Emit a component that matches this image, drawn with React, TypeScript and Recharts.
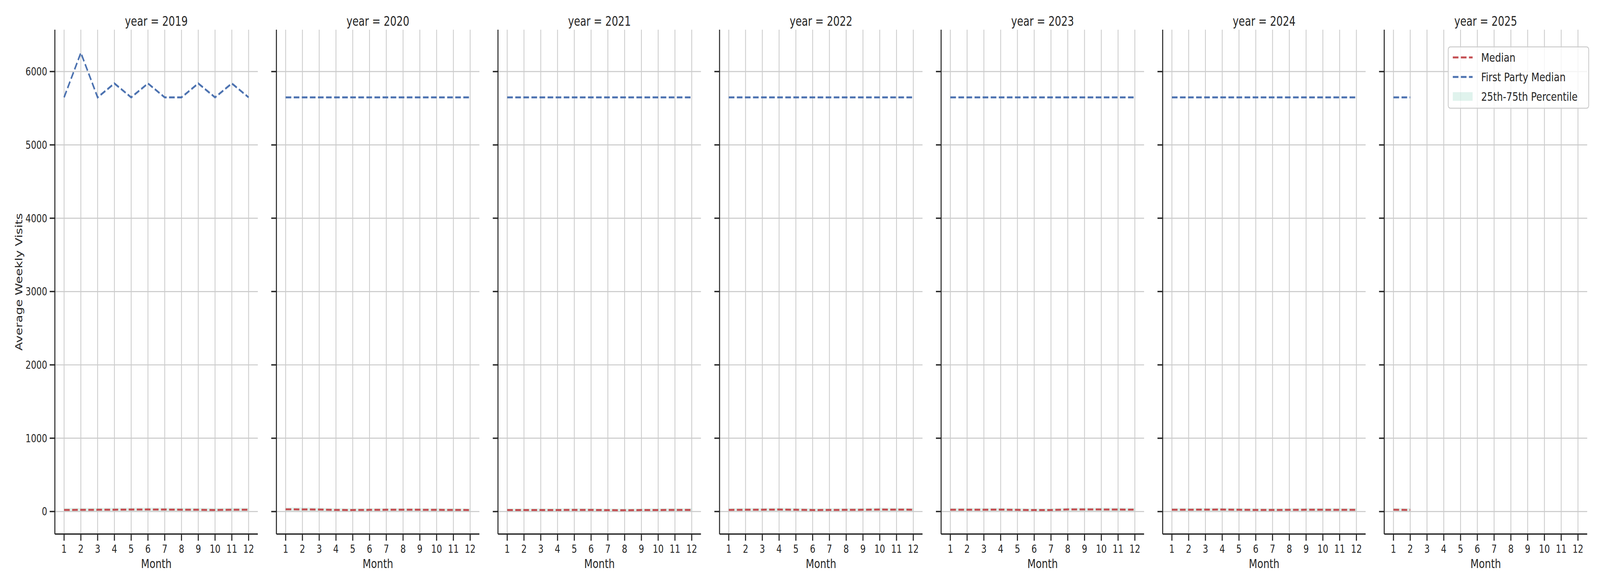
import { ComposedChart, Line, Area, XAxis, YAxis, CartesianGrid } from 'recharts';

const years = [2019, 2020, 2021, 2022, 2023, 2024, 2025];
const months = [1, 2, 3, 4, 5, 6, 7, 8, 9, 10, 11, 12];
const yTicks = [0, 1000, 2000, 3000, 4000, 5000, 6000];

// one row per year (2025 only has Jan/Feb)
const medianByYear = [
    [22, 23, 24, 25, 27, 28, 27, 25, 24, 21, 25, 25],
    [30, 29, 27, 22, 21, 23, 24, 25, 24, 23, 22, 21],
    [20, 20, 21, 21, 22, 22, 19, 18, 20, 21, 22, 22],
    [22, 24, 25, 27, 24, 21, 22, 23, 24, 27, 26, 25],
    [24, 24, 25, 26, 23, 20, 21, 28, 28, 28, 27, 26],
    [24, 25, 26, 27, 24, 22, 22, 23, 24, 24, 23, 23],
    [24, 22],
];
const p25ByYear = [
    [6, 6, 7, 7, 8, 8, 8, 7, 7, 6, 7, 7],
    [8, 8, 7, 6, 6, 6, 7, 7, 7, 6, 6, 6],
    [6, 6, 6, 6, 6, 6, 5.6, 5.6, 6, 6, 6, 6],
    [7, 7, 7, 8, 7, 6, 6, 7, 7, 8, 8, 7],
    [7, 7, 7, 8, 7, 6, 6, 8, 8, 8, 8, 7],
    [7, 7, 7, 8, 7, 6, 6, 7, 7, 7, 7, 7],
    [7, 6],
];
const p75ByYear = [
    [48, 49, 50, 51, 53, 54, 53, 51, 50, 47, 51, 51],
    [57, 56, 53, 45, 43, 45, 46, 46, 45, 44, 43, 42],
    [42, 42, 43, 43, 44, 44, 40, 39, 42, 43, 44, 44],
    [46, 48, 49, 52, 48, 44, 45, 46, 48, 52, 50, 49],
    [48, 48, 49, 51, 46, 42, 43, 53, 53, 53, 52, 51],
    [48, 49, 50, 51, 48, 45, 45, 46, 48, 48, 46, 46],
    [48, 45],
];
const firstPartyByYear = [
    [5648, 6256, 5648, 5838, 5648, 5838, 5648, 5648, 5838, 5648, 5838, 5648],
    [5648, 5648, 5648, 5648, 5648, 5648, 5648, 5648, 5648, 5648, 5648, 5648],
    [5648, 5648, 5648, 5648, 5648, 5648, 5648, 5648, 5648, 5648, 5648, 5648],
    [5648, 5648, 5648, 5648, 5648, 5648, 5648, 5648, 5648, 5648, 5648, 5648],
    [5648, 5648, 5648, 5648, 5648, 5648, 5648, 5648, 5648, 5648, 5648, 5648],
    [5648, 5648, 5648, 5648, 5648, 5648, 5648, 5648, 5648, 5648, 5648, 5648],
    [5648, 5648],
];

const RED = '#c44e52';
const BLUE = '#4c72b0';
const BAND = '#66c2a5';
const INK = '#262626';
const FONT = '"DejaVu Sans", sans-serif';

const FIG_W = 5250;
const FIG_H = 1500;
const PANEL_STEP = 727;
const AXIS_W = 180;
const PLOT_W = 666;
const TOP = 76;
const XAXIS_H = 133;
const DASH = '18.5 8';

const tickStyle = { fill: INK, fontSize: 28, fontFamily: FONT };
const spine = { stroke: INK, strokeWidth: 3.3 };
const tickLine = { stroke: INK, strokeWidth: 3.5 };

const Panel = ({ idx }) => {
    const data = medianByYear[idx].map((m, i) => ({
        month: months[i],
        median: m,
        band: [p25ByYear[idx][i], p75ByYear[idx][i]],
        firstParty: firstPartyByYear[idx][i],
    }));
    const first = idx === 0;

    return (
        <div style={{ position: 'absolute', left: PANEL_STEP * idx, top: 0 }}>
            <ComposedChart
                width={AXIS_W + PLOT_W + 20}
                height={FIG_H}
                data={data}
                margin={{ top: TOP, right: 20, bottom: 0, left: 0 }}
                style={{ fontFamily: FONT }}
            >
                <CartesianGrid
                    stroke="#cccccc"
                    strokeWidth={2.7}
                    horizontalValues={yTicks}
                    verticalValues={months}
                    syncWithTicks
                />
                <XAxis
                    dataKey="month"
                    type="number"
                    domain={[0.45, 12.55]}
                    ticks={months}
                    interval={0}
                    allowDataOverflow
                    height={XAXIS_H}
                    tickSize={17}
                    tickMargin={11}
                    axisLine={spine}
                    tickLine={tickLine}
                    tick={tickStyle}
                    label={{ value: 'Month', position: 'insideBottom', offset: 46, fill: INK, fontSize: 32, fontFamily: FONT }}
                />
                <YAxis
                    type="number"
                    domain={[-307, 6571]}
                    ticks={yTicks}
                    interval={0}
                    allowDataOverflow
                    width={AXIS_W}
                    tickSize={17}
                    tickMargin={8}
                    axisLine={spine}
                    tickLine={tickLine}
                    tick={tickStyle}
                    tickFormatter={first ? (v) => String(v) : () => ''}
                    label={
                        first
                            ? {
                                  value: 'Average Weekly Visits',
                                  angle: -90,
                                  position: 'insideLeft',
                                  offset: 62,
                                  fill: INK,
                                  fontSize: 32,
                                  fontFamily: FONT,
                                  style: { textAnchor: 'middle' },
                              }
                            : undefined
                    }
                />
                <Area
                    dataKey="band"
                    type="linear"
                    stroke="none"
                    fill={BAND}
                    fillOpacity={0.2}
                    isAnimationActive={false}
                    activeDot={false}
                />
                <Line
                    dataKey="median"
                    type="linear"
                    stroke={RED}
                    strokeWidth={5}
                    strokeDasharray={DASH}
                    dot={false}
                    activeDot={false}
                    isAnimationActive={false}
                />
                <Line
                    dataKey="firstParty"
                    type="linear"
                    stroke={BLUE}
                    strokeWidth={5}
                    strokeDasharray={DASH}
                    dot={false}
                    activeDot={false}
                    isAnimationActive={false}
                />
            </ComposedChart>
        </div>
    );
};

const legendItems = [
    { name: 'Median', color: RED, kind: 'line' },
    { name: 'First Party Median', color: BLUE, kind: 'line' },
    { name: '25th-75th Percentile', color: BAND, kind: 'patch' },
];

const Overlay = () => (
    <svg
        width={FIG_W}
        height={FIG_H}
        style={{ position: 'absolute', left: 0, top: 0, pointerEvents: 'none', fontFamily: FONT }}
    >
        {years.map((y, i) => (
            <text
                key={y}
                x={PANEL_STEP * i + AXIS_W + PLOT_W / 2}
                y={66}
                textAnchor="middle"
                fontSize={33}
                fill={INK}
            >
                {`year = ${y}`}
            </text>
        ))}
        <g>
            <rect x={4752} y={120} width={461} height={157} rx={7} fill="#ffffff" fillOpacity={0.8} stroke="#cccccc" strokeWidth={2.7} />
            {legendItems.map((item, i) => {
                const cy = 147 + i * 50;
                return (
                    <g key={item.name}>
                        {item.kind === 'line' ? (
                            <line x1={4767} x2={4832} y1={cy} y2={cy} stroke={item.color} strokeWidth={5} strokeDasharray={DASH} />
                        ) : (
                            <rect x={4767} y={cy - 11} width={65} height={22} fill={item.color} fillOpacity={0.2} />
                        )}
                        <text x={4860} y={cy + 11.5} fontSize={31} fill={INK}>
                            {item.name}
                        </text>
                    </g>
                );
            })}
        </g>
    </svg>
);

export default function App() {
    // the browser may hand us a narrower viewport than the figure; squeeze to fit
    const sx = Math.min(1, window.innerWidth / FIG_W);
    const sy = Math.min(1, window.innerHeight / FIG_H);

    return (
        <div
            style={{
                position: 'absolute',
                left: 0,
                top: 0,
                width: FIG_W,
                height: FIG_H,
                background: '#fff',
                fontFamily: FONT,
                transform: `scale(${sx}, ${sy})`,
                transformOrigin: '0 0',
            }}
        >
            {years.map((y, i) => (
                <Panel key={y} idx={i} />
            ))}
            <Overlay />
        </div>
    );
}
